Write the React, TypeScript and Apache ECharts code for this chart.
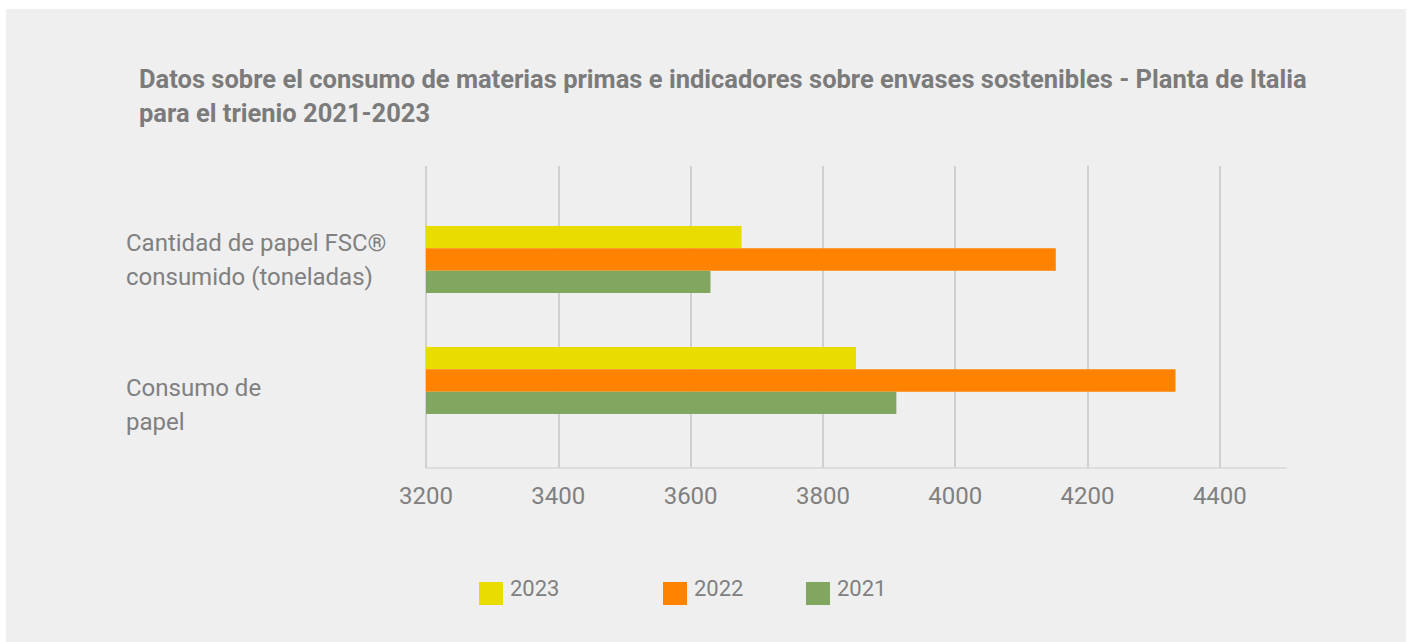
import React, { useEffect, useRef } from "react";
import * as echarts from "echarts";

const categories = ["Consumo de\npapel", "Cantidad de papel FSC®\nconsumido (toneladas)"];
const years = ["2023", "2022", "2021"];
const values2023 = [3850, 3677];
const values2022 = [4333, 4152];
const values2021 = [3911, 3630];
const xTicks = [3200, 3400, 3600, 3800, 4000, 4200, 4400];

const colors: Record<string, string> = { "2023": "#e9dc00", "2022": "#ff8300", "2021": "#80a660" };
const seriesValues: Record<string, number[]> = { "2023": values2023, "2022": values2022, "2021": values2021 };

const TITLE =
  "Datos sobre el consumo de materias primas e indicadores sobre envases sostenibles - Planta de Italia\npara el trienio 2021-2023";

// square legend swatch sitting in the lower part of its item box
const LEGEND_ICON = "path://M0,0 M0,11 L24,11 L24,34 L0,34 Z";

export default function App() {
  const ref = useRef<HTMLDivElement>(null);
  useEffect(() => {
    if (!ref.current) return;
    const chart = echarts.init(ref.current, null, { renderer: "svg" });
    const legendLeft = [473, 657, 800];
    chart.setOption({
      animation: false,
      backgroundColor: "#efefef",
      title: {
        text: TITLE,
        left: 133,
        top: 53,
        padding: 0,
        textStyle: {
          fontFamily: "Roboto, sans-serif",
          fontWeight: "bold",
          fontSize: 25.5,
          lineHeight: 34,
          color: "#7b7b7b",
        },
      },
      legend: years.map((y, i) => ({
        data: [y],
        left: legendLeft[i],
        top: 562,
        padding: 0,
        icon: LEGEND_ICON,
        itemWidth: 24,
        itemHeight: 34,
        selectedMode: false,
        textStyle: {
          fontFamily: "Roboto, sans-serif",
          fontSize: 22,
          color: "#808080",
          padding: [0, 0, 0, 2],
        },
      })),
      grid: [
        { left: 420, right: 120, top: 157, bottom: 174, containLabel: false, outerBoundsMode: "none" },
        { left: 420, right: 120, top: 190, height: 242, containLabel: false, outerBoundsMode: "none" },
      ],
      xAxis: [
        {
          type: "value",
          gridIndex: 0,
          min: xTicks[0],
          max: 4500,
          interval: 200,
          axisLine: { show: true, lineStyle: { color: "#d9d9d9", width: 1.5 } },
          axisTick: { show: false },
          axisLabel: {
            showMaxLabel: false,
            margin: 16,
            fontFamily: "Roboto, sans-serif",
            fontSize: 24,
            color: "#808080",
            formatter: (v: number) => String(v),
          },
          splitLine: { show: true, showMaxLine: false, lineStyle: { color: "#c6c6c6", width: 1.5 } },
        },
        {
          type: "value",
          gridIndex: 1,
          min: xTicks[0],
          max: 4500,
          interval: 200,
          show: false,
          splitLine: { show: false },
        },
      ],
      yAxis: [
        { type: "value", gridIndex: 0, show: false, splitLine: { show: false } },
        {
          type: "category",
          gridIndex: 1,
          data: categories,
          axisLine: { show: false },
          axisTick: { show: false },
          axisLabel: {
            align: "left",
            margin: 300,
            fontFamily: "Roboto, sans-serif",
            fontSize: 24,
            lineHeight: 34,
            color: "#808080",
            formatter: (v: string, i: number) => {
              const lines = v.split("\n").map((l) => `{a|${l}}`).join("\n");
              return i === 0 ? `{g| }\n${lines}` : lines;
            },
            rich: {
              a: { fontFamily: "Roboto, sans-serif", fontSize: 24, lineHeight: 34, color: "#808080" },
              g: { fontSize: 2, lineHeight: 48 },
            },
          },
        },
      ],
      series: years.map((y) => ({
        name: y,
        type: "bar",
        xAxisIndex: 1,
        yAxisIndex: 1,
        data: seriesValues[y],
        barWidth: 22.4,
        barGap: "0%",
        itemStyle: { color: colors[y] },
      })),
    });
    return () => chart.dispose();
  }, []);
  return (
    <div
      style={{ position: "absolute", left: 6, top: 9, width: 1400, height: 633, background: "#efefef" }}
    >
      <div ref={ref} style={{ width: 1400, height: 633 }} />
    </div>
  );
}
